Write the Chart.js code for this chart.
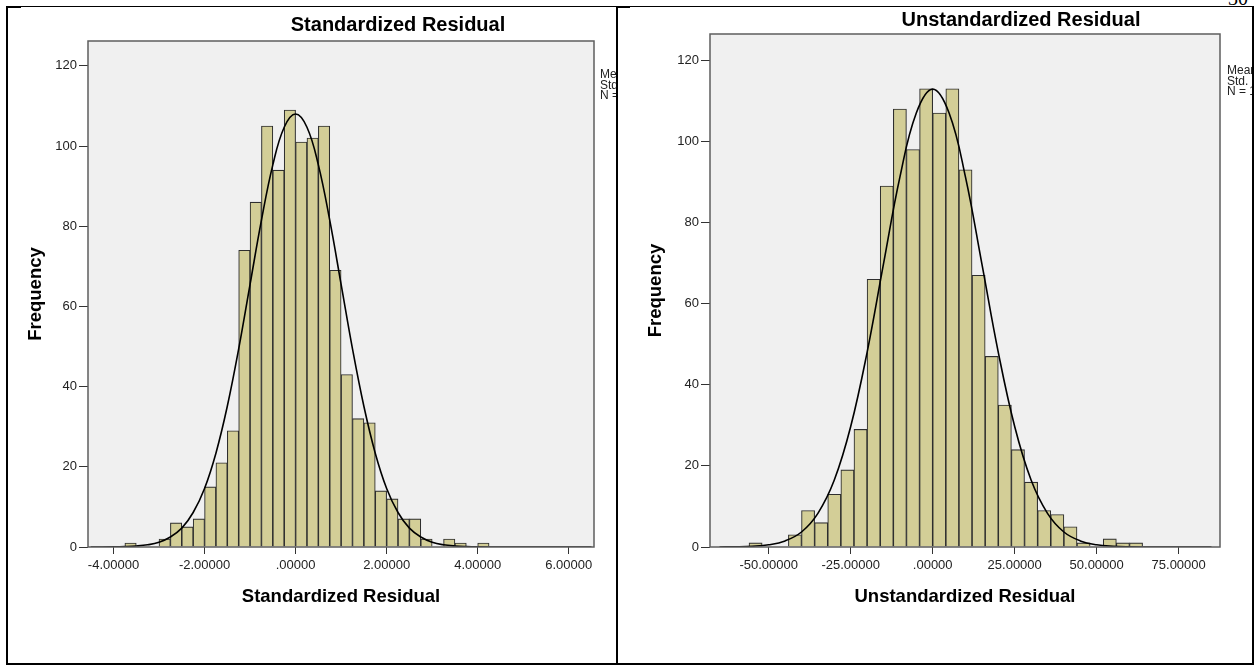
<!DOCTYPE html>
<html>
<head>
<meta charset="utf-8">
<script src="https://cdn.jsdelivr.net/npm/chart.js@4.4.1/dist/chart.umd.min.js"></script>
<style>
  body { margin: 0; background: #fff; width: 1259px; height: 671px; overflow: hidden; position: relative; font-family: "Liberation Sans", Arial, sans-serif; }
  .cell { position: absolute; overflow: hidden; }
  .cell canvas { position: absolute; }
  .line { position: absolute; background: #000; }
  .stats { position: absolute; font-size: 12px; line-height: 10.5px; color: #222; white-space: nowrap; }
  .pageno { position: absolute; font-family: "Liberation Serif", "Times New Roman", serif; font-size: 20px; line-height: 20px; }
</style>
</head>
<body>

<div class="pageno" style="left:1228px; top:-12px;">30</div>

<div class="cell" style="left:8px; top:7px; width:608px; height:656px;">
  <canvas id="stdChart" width="796" height="663" style="left:-8px; top:-7px;"></canvas>
  <div class="stats" style="left:592px; top:62px;">Mean = -1.16E-16<br>Std. Dev. = 0.998<br>N = 1,083</div>
</div>

<div class="cell" style="left:618px; top:7px; width:634px; height:656px;">
  <canvas id="unstdChart" width="806" height="663" style="left:0px; top:-7px;"></canvas>
  <div class="stats" style="left:609px; top:58px;">Mean = 4.10E-14<br>Std. Dev. = 15.32585<br>N = 1,083</div>
</div>

<!-- table borders -->
<div class="line" style="left:6px; top:6px; width:1248px; height:1px;"></div>
<div class="line" style="left:6px; top:6px; width:15px; height:2px;"></div>
<div class="line" style="left:616px; top:6px; width:14px; height:2px;"></div>
<div class="line" style="left:6px; top:6px; width:2px; height:659px;"></div>
<div class="line" style="left:616px; top:6px; width:2px; height:659px;"></div>
<div class="line" style="left:1252px; top:6px; width:2px; height:659px;"></div>
<div class="line" style="left:6px; top:663px; width:1248px; height:2px;"></div>

<script>
// ---- Standardized Residual (bins of .25) ----
const stdBins = [-3.625, -3.375, -3.125, -2.875, -2.625, -2.375, -2.125, -1.875, -1.625, -1.375,
  -1.125, -0.875, -0.625, -0.375, -0.125, 0.125, 0.375, 0.625, 0.875, 1.125,
  1.375, 1.625, 1.875, 2.125, 2.375, 2.625, 2.875, 3.125, 3.375, 3.625, 3.875, 4.125];
const stdCounts = [1, 0, 0, 2, 6, 5, 7, 15, 21, 29,
  74, 86, 105, 94, 109, 101, 102, 105, 69, 43,
  32, 31, 14, 12, 7, 7, 2, 0, 2, 1, 0, 1];
// normal curve
const stdCurveX = [-4.5, -4, -3.75, -3.5, -3.25, -3, -2.75, -2.5, -2.25, -2, -1.75, -1.5, -1.25, -1, -0.75, -0.5, -0.25, 0,
  0.25, 0.5, 0.75, 1, 1.25, 1.5, 1.75, 2, 2.25, 2.5, 2.75, 3, 3.25, 3.5, 3.75, 4, 4.5, 5, 5.5, 6, 6.5];
const stdCurveY = [0, 0.04, 0.1, 0.24, 0.55, 1.2, 2.5, 4.7, 8.6, 14.6, 23.4, 35.1, 49.4, 65.5, 81.5, 95.3, 104.7, 108,
  104.7, 95.3, 81.5, 65.5, 49.4, 35.1, 23.4, 14.6, 8.6, 4.7, 2.5, 1.2, 0.55, 0.24, 0.1, 0.04, 0, 0, 0, 0, 0];
const stdTicks = [-4, -2, 0, 2, 4, 6];
const stdTickLabels = ["-4.00000", "-2.00000", ".00000", "2.00000", "4.00000", "6.00000"];

// ---- Unstandardized Residual (bins of 4) ----
const unstdBins = [-54, -50, -46, -42, -38, -34, -30, -26, -22, -18, -14, -10, -6, -2, 2, 6, 10, 14, 18, 22,
  26, 30, 34, 38, 42, 46, 50, 54, 58, 62];
const unstdCounts = [1, 0, 0, 3, 9, 6, 13, 19, 29, 66, 89, 108, 98, 113, 107, 113, 93, 67, 47, 35,
  24, 16, 9, 8, 5, 1, 0, 2, 1, 1];
const unstdCurveX = [-65, -60, -55, -50, -45, -40, -35, -30, -25, -20, -15, -10, -5, 0,
  5, 10, 15, 20, 25, 30, 35, 40, 45, 50, 55, 60, 65, 70, 75, 80, 85];
const unstdCurveY = [0.01, 0.05, 0.18, 0.54, 1.5, 3.7, 8.3, 16.5, 29.7, 48, 69.8, 91.2, 107, 112.9,
  107, 91.2, 69.8, 48, 29.7, 16.5, 8.3, 3.7, 1.5, 0.54, 0.18, 0.05, 0.01, 0, 0, 0, 0];
const unstdTicks = [-50, -25, 0, 25, 50, 75];
const unstdTickLabels = ["-50.00000", "-25.00000", ".00000", "25.00000", "50.00000", "75.00000"];

const freqTicks = [0, 20, 40, 60, 80, 100, 120];
const freqTickLabels = ["0", "20", "40", "60", "80", "100", "120"];

const FONT = "'Liberation Sans', Arial, sans-serif";
Chart.defaults.font.family = FONT;

// grey plot box like SPSS
const plotBox = {
  id: "plotBox",
  beforeDatasetsDraw(chart) {
    const { ctx, chartArea: a } = chart;
    ctx.save();
    ctx.fillStyle = "#f0f0f0";
    ctx.fillRect(a.left, a.top, a.width, a.height);
    ctx.restore();
  },
  afterDatasetsDraw(chart) {
    const { ctx, chartArea: a } = chart;
    ctx.save();
    ctx.strokeStyle = "#5e5e5e";
    ctx.lineWidth = 1.5;
    ctx.strokeRect(a.left, a.top, a.width, a.height);
    ctx.restore();
  },
};

function makeHist(id, o) {
  return new Chart(document.getElementById(id), {
    type: "bar",
    data: {
      datasets: [
        {
          type: "line",
          data: o.curveX.map((x, i) => ({ x: x, y: o.curveY[i] })),
          borderColor: "#000",
          borderWidth: 1.6,
          pointRadius: 0,
          tension: 0.4,
          fill: false,
          order: 0,
          yAxisID: "y",
        },
        {
          type: "bar",
          data: o.bins.map((x, i) => ({ x: x, y: o.counts[i] })),
          backgroundColor: "#d3ce97",
          borderColor: "#2e2e2e",
          borderWidth: 1.1,
          barPercentage: 1,
          categoryPercentage: 1,
          order: 1,
          yAxisID: "y",
        },
      ],
    },
    options: {
      responsive: false,
      animation: false,
      layout: { padding: { top: 0, left: 0, right: 0, bottom: o.padBottom } },
      plugins: {
        legend: { display: false },
        tooltip: { enabled: false },
        title: {
          display: true,
          text: o.title,
          color: "#000",
          font: { family: FONT, size: 20, weight: "bold" },
          padding: { top: o.titleTop, bottom: o.titleBottom },
        },
      },
      scales: {
        x: {
          type: "linear",
          min: o.xMin,
          max: o.xMax,
          offset: false,
          grid: { offset: false, drawOnChartArea: false, tickLength: 7, tickColor: "#333" },
          border: { display: false },
          ticks: {
            autoSkip: false,
            maxRotation: 0,
            padding: 4,
            color: "#222",
            font: { size: 13 },
            callback: (v, i) => o.tickLabels[i],
          },
          afterBuildTicks: (s) => { s.ticks = o.ticks.map((v) => ({ value: v })); },
          afterFit: (s) => { s.height = 60.6; },
          title: {
            display: true,
            text: o.title,
            color: "#000",
            font: { family: FONT, size: 18.5, weight: "bold" },
            padding: { top: 0, bottom: 0 },
          },
        },
        y: {
          min: 0,
          max: o.yMax,
          grid: { drawOnChartArea: false, tickLength: 9, tickColor: "#333" },
          border: { display: false },
          ticks: {
            autoSkip: false,
            padding: 2,
            color: "#222",
            font: { size: 13 },
            callback: (v, i) => freqTickLabels[i],
          },
          afterBuildTicks: (s) => { s.ticks = freqTicks.map((v) => ({ value: v })); },
          afterFit: (s) => { s.width = o.yWidth; },
          title: {
            display: true,
            text: "Frequency",
            color: "#000",
            font: { family: FONT, size: 18.5, weight: "bold" },
            padding: { top: o.yTitlePad, bottom: 0 },
          },
        },
        // empty space on the right where SPSS puts the stats box
        pad: {
          position: "right",
          grid: { display: false },
          ticks: { display: false },
          border: { display: false },
          afterFit: (s) => { s.width = o.rightPad; },
        },
      },
    },
    plugins: [plotBox],
  });
}

makeHist("stdChart", {
  title: "Standardized Residual",
  bins: stdBins, counts: stdCounts,
  curveX: stdCurveX, curveY: stdCurveY,
  ticks: stdTicks, tickLabels: stdTickLabels,
  xMin: -4.56, xMax: 6.555, yMax: 126.2,
  titleTop: 13, titleBottom: 4,
  yWidth: 88, yTitlePad: 24.4, rightPad: 202,
  padBottom: 55.4,
});

makeHist("unstdChart", {
  title: "Unstandardized Residual",
  bins: unstdBins, counts: unstdCounts,
  curveX: unstdCurveX, curveY: unstdCurveY,
  ticks: unstdTicks, tickLabels: unstdTickLabels,
  xMin: -67.9, xMax: 87.6, yMax: 126.5,
  titleTop: 8, titleBottom: 2,
  yWidth: 92, yTitlePad: 26.9, rightPad: 204,
  padBottom: 55.4,
});
</script>
</body>
</html>
